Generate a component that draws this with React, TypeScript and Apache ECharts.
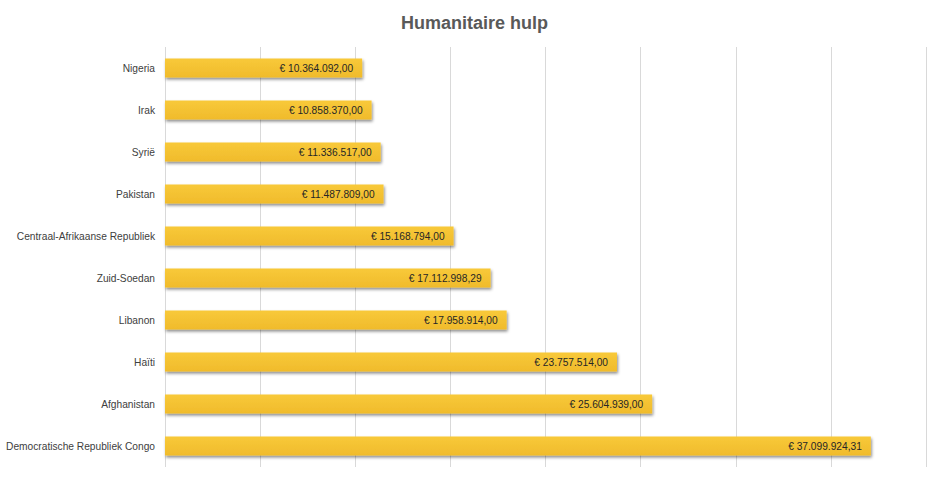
import React, { useEffect, useRef } from "react";
import * as echarts from "echarts";

const categories = [
  "Nigeria",
  "Irak",
  "Syrië",
  "Pakistan",
  "Centraal-Afrikaanse Republiek",
  "Zuid-Soedan",
  "Libanon",
  "Haïti",
  "Afghanistan",
  "Democratische Republiek Congo",
];

const values = [
  10364092.0, 10858370.0, 11336517.0, 11487809.0, 15168794.0, 17112998.29,
  17958914.0, 23757514.0, 25604939.0, 37099924.31,
];

function formatEuro(v: number): string {
  const fixed = v.toFixed(2);
  const [intPart, dec] = fixed.split(".");
  const withDots = intPart.replace(/\B(?=(\d{3})+(?!\d))/g, ".");
  return "€ " + withDots + "," + dec;
}

export default function App() {
  const ref = useRef<HTMLDivElement>(null);
  useEffect(() => {
    if (!ref.current) return;
    const chart = echarts.init(ref.current, undefined, { renderer: "svg" });
    const font = "'Liberation Sans', Arial, sans-serif";
    chart.setOption({
      animation: false,
      backgroundColor: "#ffffff",
      title: {
        text: "Humanitaire hulp",
        left: 396,
        top: 9,
        textStyle: {
          fontFamily: font,
          fontWeight: "bold",
          fontSize: 18,
          color: "#595959",
        },
      },
      grid: {
        left: 165,
        right: 10,
        top: 47,
        bottom: 12,
        containLabel: false,
        outerBoundsMode: "none",
      },
      xAxis: {
        type: "value",
        min: 0,
        max: 40000000,
        interval: 5000000,
        axisLabel: { show: false },
        axisLine: { show: false },
        axisTick: { show: false },
        splitLine: { show: true, lineStyle: { color: "#d9d9d9", width: 1 } },
      },
      yAxis: {
        type: "category",
        data: categories,
        inverse: true,
        axisLine: { show: false },
        axisTick: { show: false },
        axisLabel: {
          margin: 10,
          fontFamily: font,
          fontSize: 10.2,
          color: "#404040",
        },
      },
      series: [
        {
          type: "bar",
          data: values,
          barWidth: 19,
          itemStyle: {
            color: new echarts.graphic.LinearGradient(0, 0, 0, 1, [
              { offset: 0, color: "#F8C93A" },
              { offset: 1, color: "#F0BB2B" },
            ]),
            shadowColor: "rgba(0,0,0,0.45)",
            shadowBlur: 3,
            shadowOffsetX: 1,
            shadowOffsetY: 2,
          },
          label: {
            show: true,
            position: "insideRight",
            distance: 9,
            formatter: (p: any) => formatEuro(p.value),
            fontFamily: font,
            fontSize: 10.2,
            color: "#262626",
          },
        },
      ],
    });
    return () => chart.dispose();
  }, []);
  return (
    <div
      ref={ref}
      style={{ position: "fixed", left: 0, top: 0, width: 936, height: 479 }}
    />
  );
}
